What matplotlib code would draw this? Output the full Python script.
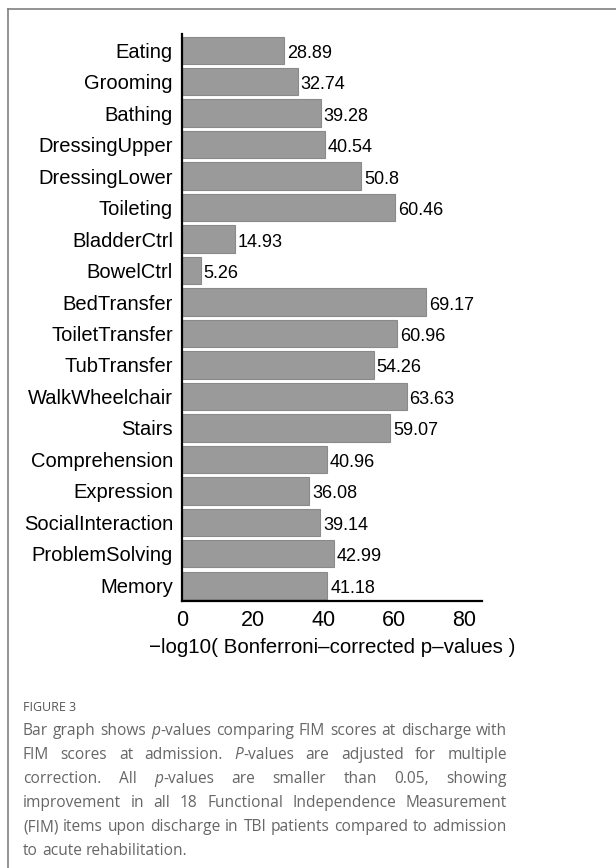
import matplotlib
matplotlib.use("Agg")
import matplotlib.pyplot as plt
from matplotlib.lines import Line2D
import numpy as np

categories = ["Eating", "Grooming", "Bathing", "DressingUpper", "DressingLower",
              "Toileting", "BladderCtrl", "BowelCtrl", "BedTransfer", "ToiletTransfer",
              "TubTransfer", "WalkWheelchair", "Stairs", "Comprehension", "Expression",
              "SocialInteraction", "ProblemSolving", "Memory"]
values = [28.89, 32.74, 39.28, 40.54, 50.8, 60.46, 14.93, 5.26, 69.17, 60.96,
          54.26, 63.63, 59.07, 40.96, 36.08, 39.14, 42.99, 41.18]
value_labels = ["28.89", "32.74", "39.28", "40.54", "50.8", "60.46", "14.93", "5.26",
                "69.17", "60.96", "54.26", "63.63", "59.07", "40.96", "36.08",
                "39.14", "42.99", "41.18"]
xticks = [0, 20, 40, 60, 80]
xlabel = "\u2212log10( Bonferroni\u2013corrected p\u2013values )"

W, H = 616, 868
DPI = 100
CHART_FONT = ["Liberation Sans", "DejaVu Sans"]
CAP_FONT = ["Open Sans", "DejaVu Sans"]

fig = plt.figure(figsize=(W / DPI, H / DPI), dpi=DPI)
fig.patch.set_facecolor("white")

# axes position in pixels
ax_l, ax_r, ax_t, ax_b = 182, 482, 34.5, 601
ax = fig.add_axes([ax_l / W, 1 - ax_b / H, (ax_r - ax_l) / W, (ax_b - ax_t) / H])

y = np.arange(len(categories))
ax.barh(y, values, height=0.87, color="#9a9a9a", edgecolor="#8a8a8a", linewidth=0.8)
ax.set_ylim(len(categories) - 0.5, -0.5)
ax.set_xlim(0, 85)

for yi, v, lab in zip(y, values, value_labels):
    ax.annotate(lab, (v, yi), xytext=(3, -3), textcoords="offset pixels",
                ha="left", va="center", fontsize=13, family=CHART_FONT, color="black")

ax.set_yticks(y)
ax.set_yticklabels(categories, family=CHART_FONT, fontsize=14.5)
ax.set_xticks(xticks)
ax.set_xticklabels([str(t) for t in xticks], family=CHART_FONT, fontsize=15.5)
ax.tick_params(axis="both", length=0)
ax.tick_params(axis="y", pad=6.5)
ax.tick_params(axis="x", pad=6.5)
ax.set_xlabel(xlabel, family=CHART_FONT, fontsize=14.8, labelpad=5)

for s in ["top", "right"]:
    ax.spines[s].set_visible(False)
for s in ["left", "bottom"]:
    ax.spines[s].set_linewidth(1.6)
    ax.spines[s].set_color("black")

# frame lines
fig.add_artist(Line2D([8 / W, 1], [1 - 9 / H, 1 - 9 / H], color="#808080", lw=1.2))
fig.add_artist(Line2D([8 / W, 8 / W], [0, 1 - 9 / H], color="#808080", lw=1.2))

# caption
fig.text(23 / W, 1 - 711 / H, "FIGURE 3", family=CAP_FONT, fontsize=9,
         color="#555555", ha="left", va="baseline")

R, I = "normal", "italic"
cap_lines = [
    [[("Bar", R)], [("graph", R)], [("shows", R)], [("p", I), ("-values", R)],
     [("comparing", R)], [("FIM", R)], [("scores", R)], [("at", R)],
     [("discharge", R)], [("with", R)]],
    [[("FIM", R)], [("scores", R)], [("at", R)], [("admission.", R)],
     [("P", I), ("-values", R)], [("are", R)], [("adjusted", R)], [("for", R)],
     [("multiple", R)]],
    [[("correction.", R)], [("All", R)], [("p", I), ("-values", R)], [("are", R)],
     [("smaller", R)], [("than", R)], [("0.05,", R)], [("showing", R)]],
    [[("improvement", R)], [("in", R)], [("all", R)], [("18", R)],
     [("Functional", R)], [("Independence", R)], [("Measurement", R)]],
    [[("(FIM)", R)], [("items", R)], [("upon", R)], [("discharge", R)], [("in", R)],
     [("TBI", R)], [("patients", R)], [("compared", R)], [("to", R)],
     [("admission", R)]],
    [[("to", R)], [("acute", R)], [("rehabilitation.", R)]],
]
cap_x0, cap_x1 = 23, 507
cap_y0, cap_dy = 735, 24
cap_fs = 11.2
cap_color = "#666666"

renderer = fig.canvas.get_renderer()


def seg_width(txt, style):
    t = fig.text(0, 0, txt, family=CAP_FONT, fontsize=cap_fs, style=style)
    w = t.get_window_extent(renderer).width
    t.remove()
    return w


space_w = seg_width("a a", R) - seg_width("aa", R)

for li, line in enumerate(cap_lines):
    widths = [[seg_width(s, st) for s, st in word] for word in line]
    word_w = [sum(w) for w in widths]
    last = li == len(cap_lines) - 1
    if last or len(line) < 2:
        gap = space_w
    else:
        gap = (cap_x1 - cap_x0 - sum(word_w)) / (len(line) - 1)
    x = cap_x0
    yb = cap_y0 + li * cap_dy
    for word, ws in zip(line, widths):
        xx = x
        for (s, st), w in zip(word, ws):
            fig.text(xx / W, 1 - yb / H, s, family=CAP_FONT, fontsize=cap_fs,
                     style=st, color=cap_color, ha="left", va="baseline")
            xx += w
        x += sum(ws) + gap

fig.savefig("out.png", dpi=DPI, facecolor="white")
